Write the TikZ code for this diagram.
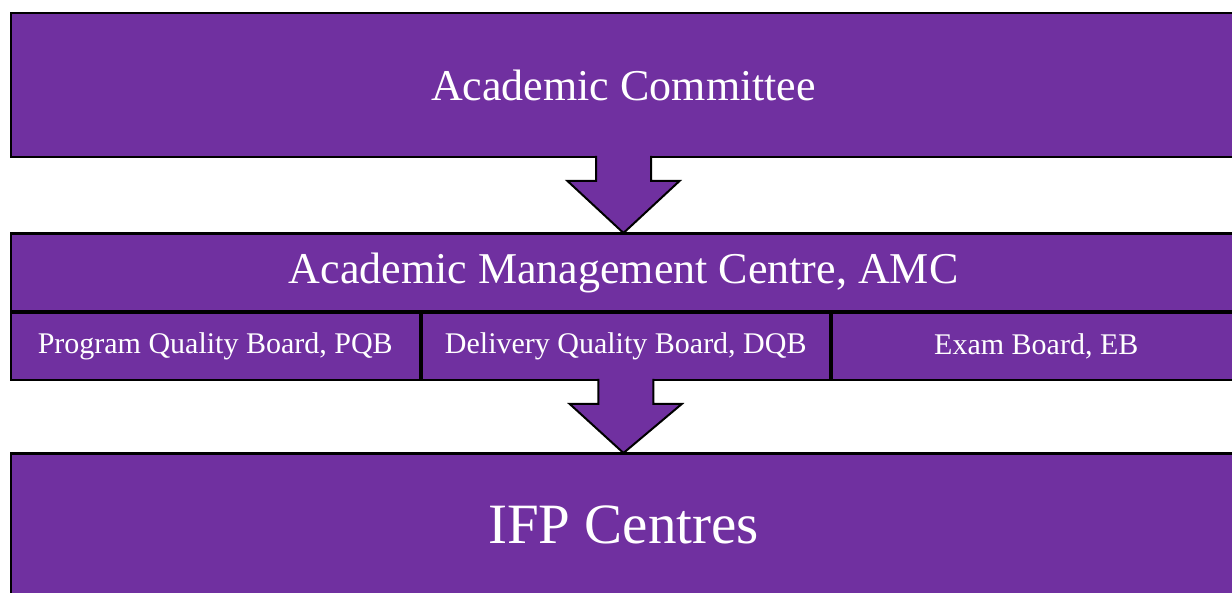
\documentclass[tikz,border=0pt]{standalone}
\usepackage{fontspec}
\setmainfont{Liberation Serif}
\usetikzlibrary{calc}
\definecolor{ifppurple}{HTML}{7030A0}
\begin{document}
\begin{tikzpicture}[x=1pt,y=1pt,
  box/.style={draw=black, line width=2pt, fill=ifppurple, text=white,
    anchor=north west, inner sep=0pt, minimum width=1225pt},
  cell/.style={box, minimum width=408.5pt, minimum height=67pt,
    font=\fontsize{30}{36}\selectfont},
  blockarrow/.style={draw=black, line width=2pt, fill=ifppurple, line join=miter}]
\useasboundingbox (0,0) rectangle (1232,592);
\clip (0,0) rectangle (1232,592);
\fill[white] (0,0) rectangle (1232,592);
% top box
\node[box, minimum height=144pt, font=\fontsize{44}{50}\selectfont] (ac) at (10,580) {Academic Committee};
\coordinate (a1) at (ac.south);
% middle
\node[box, minimum height=77pt, font=\fontsize{44}{50}\selectfont] (amc) at (10,359) {Academic Management Centre, AMC};
\draw[blockarrow] ($(a1)+(-27.5,2)$) -- ($(a1)+(-27.5,-23)$) -- ($(a1)+(-56,-23)$)
  -- (amc.north) -- ($(a1)+(56,-23)$) -- ($(a1)+(27.5,-23)$) -- ($(a1)+(27.5,2)$);
\draw[black, line width=2pt] (amc.north west) -- (amc.north east);
\node[cell] (pqb) at (amc.south west) {Program Quality Board, PQB};
\node[cell] (dqb) at (pqb.north east) {Delivery Quality Board, DQB};
\node[cell] (eb) at (dqb.north east) {Exam Board, EB};
% bottom
\node[box, minimum height=142pt, font=\fontsize{57}{64}\selectfont] (ifp) at (10,139) {IFP Centres};
\coordinate (a2) at (dqb.south);
\draw[blockarrow] ($(a2)+(-27.5,2)$) -- ($(a2)+(-27.5,-23)$) -- ($(a2)+(-56,-23)$)
  -- (ifp.north) -- ($(a2)+(56,-23)$) -- ($(a2)+(27.5,-23)$) -- ($(a2)+(27.5,2)$);
\draw[black, line width=2pt] (ifp.north west) -- (ifp.north east);
\end{tikzpicture}
\end{document}
